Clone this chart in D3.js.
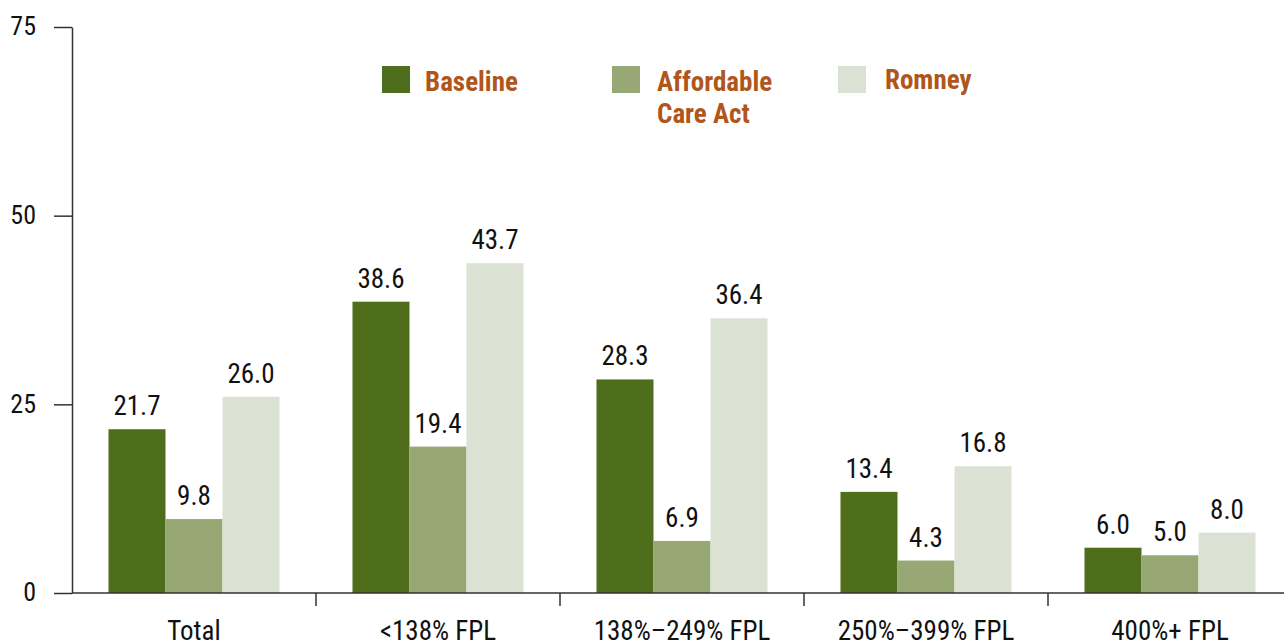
<!DOCTYPE html>
<html><head><meta charset="utf-8">
<script src="https://cdn.jsdelivr.net/npm/d3@7"></script>
<style>
html,body{margin:0;padding:0;background:#fff;}
text{font-family:"Liberation Sans Narrow","Roboto Condensed","Liberation Sans",sans-serif;}
</style></head>
<body><svg id="c" width="1284" height="643"></svg>
<script>
const categories = ["Total", "<138% FPL", "138%\u2013249% FPL", "250%\u2013399% FPL", "400%+ FPL"];
const seriesNames = ["Baseline", "Affordable Care Act", "Romney"];
const baseline = [21.7, 38.6, 28.3, 13.4, 6.0];
const aca = [9.8, 19.4, 6.9, 4.3, 5.0];
const romney = [26.0, 43.7, 36.4, 16.8, 8.0];
const yTicks = [0, 25, 50, 75];
const colors = ["#4e6e1b", "#98a874", "#dbe2d3"];

const seriesValues = [baseline, aca, romney];
const svg = d3.select("#c");
const mLeft = 72, mRight = 1292, mTop = 27, mBottom = 593;

const x0 = d3.scaleBand().domain(categories).range([mLeft, mRight]).padding(0);
const x1 = d3.scaleBand().domain(seriesNames).range([0, x0.bandwidth()]).paddingInner(0).paddingOuter(0.64);
const y = d3.scaleLinear().domain([0, 75]).range([mBottom, mTop]);

// bars
categories.forEach((c, i) => {
  seriesNames.forEach((s, j) => {
    const v = seriesValues[j][i];
    svg.append("rect")
      .attr("x", x0(c) + x1(s))
      .attr("y", y(v))
      .attr("width", x1.bandwidth())
      .attr("height", y(0) - y(v))
      .attr("fill", colors[j]);
    svg.append("text")
      .attr("x", x0(c) + x1(s) + x1.bandwidth() / 2)
      .attr("y", y(v) - 14)
      .attr("text-anchor", "middle")
      .attr("font-size", 27)
      .attr("fill", "#111")
      .text(v.toFixed(1));
  });
});

// y axis
const yAxis = d3.axisLeft(y).tickValues(yTicks).tickSize(18).tickPadding(18).tickSizeOuter(0);
const gy = svg.append("g").attr("transform", `translate(${mLeft},0)`).call(yAxis);
gy.select(".domain").attr("stroke", "#333").attr("stroke-width", 1.5);
gy.selectAll(".tick line").attr("stroke", "#333").attr("stroke-width", 1.5);
gy.selectAll(".tick text").attr("font-size", 26).attr("fill", "#111")
  .attr("font-family", "'Liberation Sans Narrow','Roboto Condensed',sans-serif").attr("dy", "0.3em");

// x axis with separator ticks at group boundaries
const sepScale = d3.scaleLinear().domain([0, categories.length]).range([mLeft, mRight]);
const gx = svg.append("g").attr("transform", `translate(0,${mBottom})`);
gx.append("line").attr("x1", mLeft).attr("x2", mRight).attr("y1", 0).attr("y2", 0)
  .attr("stroke", "#333").attr("stroke-width", 1.5);
d3.range(1, categories.length + 1).forEach(k => {
  gx.append("line").attr("x1", sepScale(k)).attr("x2", sepScale(k)).attr("y1", 0).attr("y2", 13)
    .attr("stroke", "#333").attr("stroke-width", 1.5);
});
categories.forEach(c => {
  gx.append("text").attr("x", x0(c) + x0.bandwidth() / 2).attr("y", 47)
    .attr("text-anchor", "middle").attr("font-size", 27).attr("fill", "#111").text(c);
});

// legend
const legendItems = [
  {lines: ["Baseline"], x: 382, tx: 425, ty: 91},
  {lines: ["Affordable", "Care Act"], x: 612, tx: 657, ty: 91},
  {lines: ["Romney"], x: 838, tx: 885, ty: 89}
];
legendItems.forEach((it, j) => {
  svg.append("rect").attr("x", it.x).attr("y", 66).attr("width", 28).attr("height", 27).attr("fill", colors[j]);
  const t = svg.append("text").attr("x", it.tx).attr("y", it.ty)
    .attr("font-size", 27).attr("font-weight", "bold").attr("fill", "#b0561b");
  it.lines.forEach((l, k) => t.append("tspan").attr("x", it.tx).attr("dy", k === 0 ? 0 : 32).text(l));
});
</script></body></html>
